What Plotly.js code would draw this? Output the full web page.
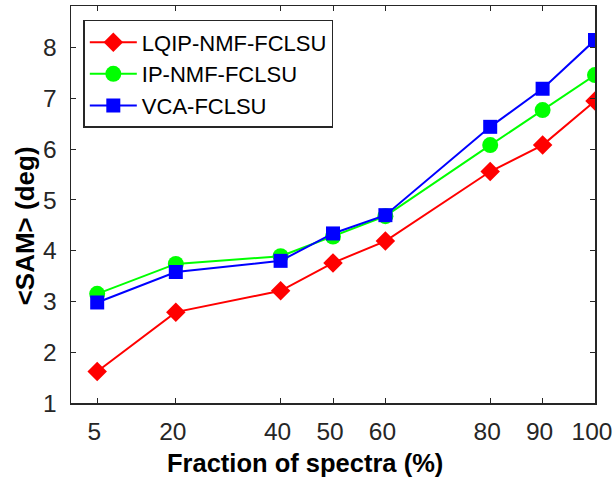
<!DOCTYPE html>
<html>
<head>
<meta charset="utf-8">
<script src="https://cdn.plot.ly/plotly-3.0.1.min.js"></script>
<style>html,body{margin:0;padding:0;background:#fff;}#chart{width:613px;height:482px;}</style>
</head>
<body>
<div id="chart"></div>
<script>
const fractions = [5, 20, 40, 50, 60, 80, 90, 100];
const lqipNmf = [1.62, 2.79, 3.21, 3.76, 4.19, 5.56, 6.08, 6.95];
const ipNmf = [3.15, 3.74, 3.89, 4.28, 4.68, 6.08, 6.77, 7.46];
const vca = [2.98, 3.58, 3.80, 4.34, 4.70, 6.44, 7.19, 8.15];
const seriesNames = ['LQIP-NMF-FCLSU', 'IP-NMF-FCLSU', 'VCA-FCLSU'];
const xTicks = [5, 20, 40, 50, 60, 80, 90, 100];
const yTicks = [1, 2, 3, 4, 5, 6, 7, 8];
const xTitle = 'Fraction of spectra (%)';
const yTitle = '&lt;SAM&gt; (deg)';

const FONT = 'Liberation Sans, Arial, sans-serif';

const traces = [
  {x: fractions, y: lqipNmf, name: seriesNames[0], mode: 'lines+markers',
   line: {color: '#ff0000', width: 2}, marker: {symbol: 'diamond', size: 15, color: '#ff0000'}},
  {x: fractions, y: ipNmf, name: seriesNames[1], mode: 'lines+markers',
   line: {color: '#00ff00', width: 2}, marker: {symbol: 'circle', size: 16, color: '#00ff00'}},
  {x: fractions, y: vca, name: seriesNames[2], mode: 'lines+markers',
   line: {color: '#0000ff', width: 2}, marker: {symbol: 'square', size: 14, color: '#0000ff'}}
];

const axisCommon = {
  showgrid: false, zeroline: false, showline: true, linecolor: '#262626', linewidth: 1.5,
  mirror: 'allticks', ticks: 'inside', ticklen: 5, tickwidth: 1, tickcolor: '#262626',
  tickfont: {family: FONT, size: 24.5, color: '#262626'}
};

const layout = {
  width: 613, height: 482,
  margin: {l: 71, r: 18, t: 6, b: 79},
  paper_bgcolor: '#ffffff', plot_bgcolor: '#ffffff',
  showlegend: true,
  legend: {x: 0.0235, y: 0.965, xanchor: 'left', yanchor: 'top',
    bordercolor: '#262626', borderwidth: 1.5, bgcolor: '#ffffff',
    font: {family: FONT, size: 22, color: '#000'},
    tracegroupgap: 0, itemwidth: 47},
  xaxis: Object.assign({}, axisCommon, {
    range: [0, 100], tickmode: 'array', tickvals: xTicks, ticktext: xTicks.map(String),
    ticklabelstandoff: 6, ticklabeloverflow: 'allow', ticklabelshift: -3
  }),
  yaxis: Object.assign({}, axisCommon, {
    range: [1, 8.82], tickmode: 'array', tickvals: yTicks, ticktext: yTicks.map(String),
    ticklabelstandoff: 8
  }),
  annotations: [
    {text: '<b>' + xTitle + '</b>', xref: 'paper', yref: 'paper', x: 0.447, y: -0.152,
     xanchor: 'center', yanchor: 'middle', showarrow: false,
     font: {family: FONT, size: 25.5, color: '#000'}},
    {text: '<b>' + yTitle + '</b>', xref: 'paper', yref: 'paper', x: -0.087, y: 0.446,
     xanchor: 'center', yanchor: 'middle', showarrow: false, textangle: -90,
     font: {family: FONT, size: 26, color: '#000'}}
  ]
};

Plotly.newPlot('chart', traces, layout, {displayModeBar: false, staticPlot: true});
</script>
</body>
</html>
